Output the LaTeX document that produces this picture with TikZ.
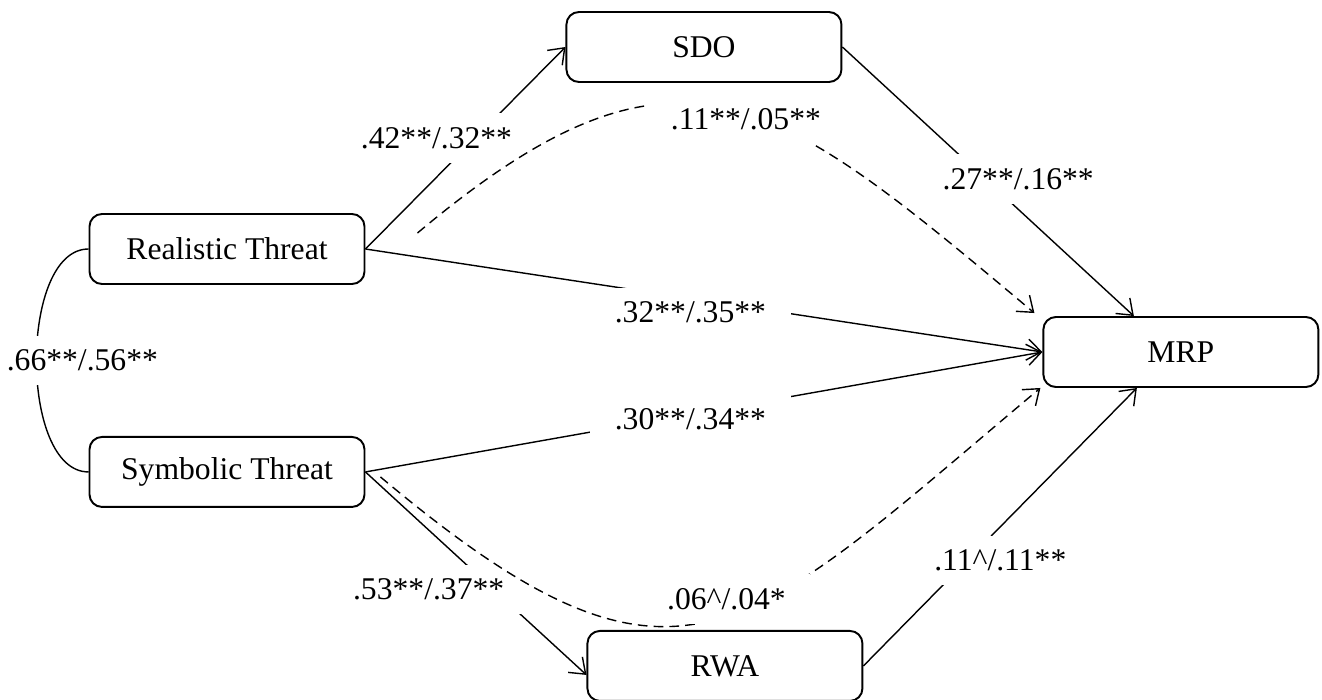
\documentclass[tikz,border=0pt]{standalone}
\usepackage{fontspec}
\setmainfont{Liberation Serif}
\usetikzlibrary{arrows.meta,positioning}

\begin{document}
\begin{tikzpicture}[
    node distance=4cm,
    font=\fontsize{18}{22}\selectfont,
    construct/.style={rectangle, rounded corners=0.25cm, minimum width=5.5cm, minimum height=1.4cm, text centered, draw, line width=1.1pt},
    coef/.style={fill=white, inner xsep=14pt, inner ysep=8pt},
    arrow/.style={line width=0.8pt, ->, >={Straight Barb[length=8pt, width=12pt]}},
    indirect/.style={arrow, dash pattern=on 5.5pt off 3.5pt},
    corr/.style={line width=0.8pt}
]
\useasboundingbox (0,0) rectangle (26.44,-14);

\node (real) [construct] at (4.54,-4.98) {Realistic Threat};
\node (symb) [construct, below=3.02cm of real] {Symbolic Threat};
\node (sdo) [construct, right=of real, yshift=4.04cm] {SDO};
\node (mrp) [construct, right=of sdo, yshift=-6.1cm] {MRP};
\node (rwa) [construct, right=4.42cm of symb, yshift=-3.88cm] {RWA};

% direct paths
\draw[arrow] (real.east) -- node[coef, pos=0.55, xshift=-0.78cm] {.42**/.32**} (sdo.west);
\draw[arrow] (sdo.east) -- node[coef, pos=0.49, xshift=0.66cm] {.27**/.16**} ([xshift=-0.94cm]mrp.north);
\draw[arrow] (real.east) -- node[coef, pos=0.48, yshift=-0.28cm] {.32**/.35**} (mrp.west);
\draw[arrow] (symb.east) -- node[coef, pos=0.48, yshift=-0.1cm] {.30**/.34**} (mrp.west);
\draw[arrow] (symb.east) -- node[coef, pos=0.58, xshift=-1.3cm] {.53**/.37**} ([yshift=-0.18cm]rwa.west);
\draw[arrow] (rwa.east) -- node[coef, pos=0.38, xshift=0.66cm] {.11\textasciicircum/.11**} ([xshift=-0.88cm]mrp.south);
\draw[corr] (real.west) to[out=180, in=180, looseness=0.8] node[coef, xshift=0.92cm] {.66**/.56**} (symb.west);

% indirect paths
\draw[indirect] ([xshift=1.04cm, yshift=0.32cm]real.east) to[out=40, in=140, looseness=1.4]
    node[coef, xshift=0.4cm, yshift=-0.2cm] {.11**/.05**} ([xshift=-0.16cm, yshift=0.06cm]mrp.north west);
\draw[indirect] ([xshift=0.3cm, yshift=-0.1cm]symb.east) to[out=-40, in=-140, looseness=1.5]
    node[coef, xshift=0.32cm, yshift=0.44cm] {.06\textasciicircum/.04*} ([xshift=-0.04cm]mrp.south west);

\end{tikzpicture}
\end{document}
